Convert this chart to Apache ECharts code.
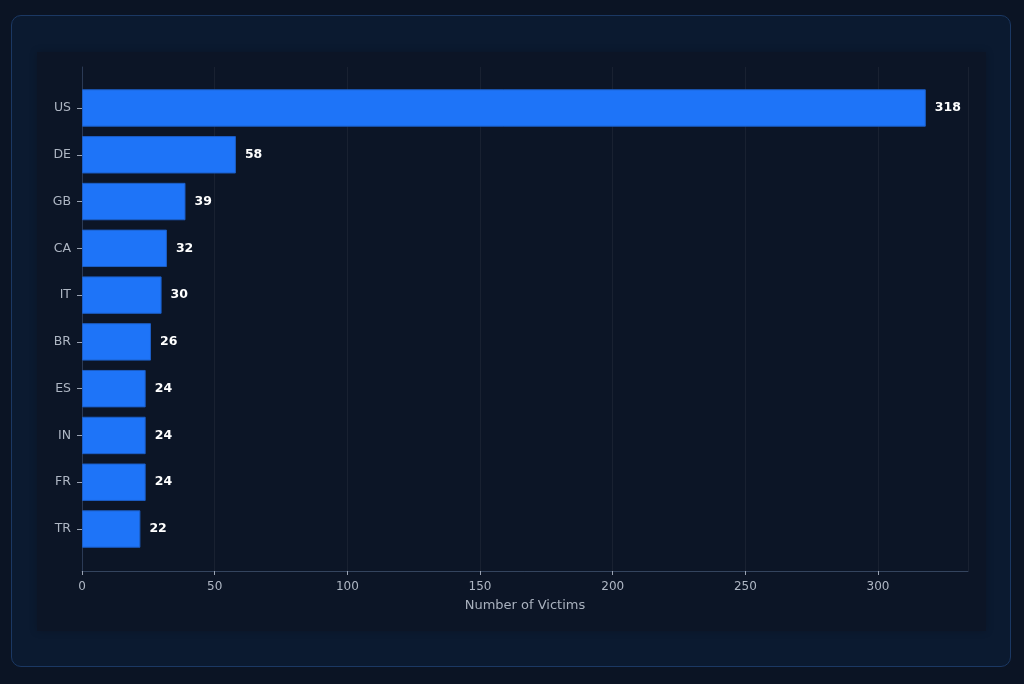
<!DOCTYPE html>
<html>
<head>
<meta charset="utf-8">
<script src="https://cdn.jsdelivr.net/npm/echarts@6/dist/echarts.min.js"></script>
<style>
  html, body { margin: 0; padding: 0; width: 1024px; height: 684px; background: #0b1424; overflow: hidden; }
  #panel { position: absolute; left: 11px; top: 15px; width: 998px; height: 650px; border: 1px solid #1b3863; border-radius: 10px; background: #0b1a30; }
  #chart { position: absolute; left: 37px; top: 52px; width: 949px; height: 579px; background: #0c1526; box-shadow: 0 0 8px rgba(0,0,0,0.2); }
</style>
</head>
<body>
<div id="panel"></div>
<div id="chart"></div>
<script>
const categories = ['US', 'DE', 'GB', 'CA', 'IT', 'BR', 'ES', 'IN', 'FR', 'TR'];
const victims = [318, 58, 39, 32, 30, 26, 24, 24, 24, 22];
const xTicks = [0, 50, 100, 150, 200, 250, 300];

const xMax = Math.max(...victims) * 1.05;
const labelFont = 'DejaVu Sans';

const chart = echarts.init(document.getElementById('chart'));
chart.setOption({
  backgroundColor: 'transparent',
  animation: false,
  grid: [
    { left: 45, top: 15, right: 18, bottom: 60 },
    { left: 45, top: 32.6, right: 18, bottom: 78.6 }
  ],
  xAxis: [{
    gridIndex: 0,
    type: 'value',
    min: 0,
    max: xMax,
    interval: 50,
    name: 'Number of Victims',
    nameLocation: 'middle',
    nameGap: 28,
    nameTextStyle: { color: '#a9b1be', fontSize: 13, fontFamily: labelFont },
    axisLine: { show: true, lineStyle: { color: '#34445e', width: 1 } },
    axisTick: { show: true, length: 4, lineStyle: { color: '#9aa3b3' } },
    axisLabel: {
      color: '#aeb6c3', fontSize: 12, fontFamily: labelFont, margin: 10,
      showMaxLabel: false,
      formatter: v => xTicks.includes(v) ? String(v) : ''
    },
    splitLine: { show: true, lineStyle: { color: 'rgba(255,255,255,0.055)', width: 1 } }
  }, {
    gridIndex: 1,
    type: 'value',
    min: 0,
    max: xMax,
    show: false
  }],
  yAxis: [{
    gridIndex: 0,
    type: 'category',
    data: [''],
    axisLine: { show: true, lineStyle: { color: '#2b3a55', width: 1 } },
    axisTick: { show: false },
    axisLabel: { show: false },
    splitLine: { show: false }
  }, {
    gridIndex: 1,
    type: 'category',
    data: categories,
    inverse: true,
    axisLine: { show: false },
    axisTick: { show: true, alignWithLabel: true, length: 5, lineStyle: { color: '#9aa3b3' } },
    axisLabel: { color: '#aeb6c3', fontSize: 12.5, fontFamily: labelFont, margin: 11 },
    splitLine: { show: false }
  }],
  series: [{
    type: 'bar',
    xAxisIndex: 1,
    yAxisIndex: 1,
    data: victims,
    barCategoryGap: '20%',
    z: 1,
    itemStyle: { color: 'rgba(31,120,255,0.97)', borderColor: '#1c5ec6', borderWidth: 1 },
    label: {
      show: true, position: 'right', distance: 9,
      color: '#ffffff', fontWeight: 'bold', fontSize: 12.5, fontFamily: labelFont
    }
  }]
});
</script>
</body>
</html>
